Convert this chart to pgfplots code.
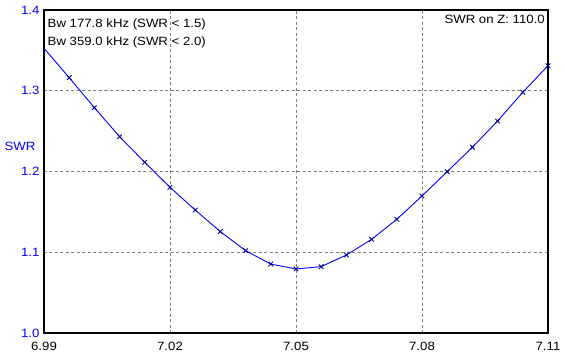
\documentclass[border=0pt]{standalone}
\usepackage{fontspec}
\setmainfont{Liberation Sans}[FakeStretch=1.1]
\usepackage{pgfplots}
\pgfplotsset{compat=1.18}
\definecolor{swrblue}{RGB}{0,0,255}
\definecolor{mkblue}{RGB}{0,0,140}
\definecolor{gridgray}{RGB}{128,128,128}
\begin{document}
\begin{tikzpicture}
\begin{axis}[
  at={(0,0)}, anchor=south west,
  scale only axis, width=504pt, height=323pt,
  xmin=6.99, xmax=7.11, ymin=1.0, ymax=1.4,
  xtick={6.99,7.02,7.05,7.08,7.11},
  ytick={1.0,1.1,1.2,1.3,1.4},
  major tick length=0pt,
  grid=major,
  major grid style={gridgray, dash pattern=on 3pt off 2.5pt, line width=0.8pt},
  axis line style={black, line width=1.1pt},
  font=\fontsize{12}{14}\selectfont,
  /pgf/number format/assume math mode=true,
  xticklabel style={/pgf/number format/.cd, fixed, fixed zerofill, precision=2, /tikz/.cd, yshift=-6pt},
  yticklabel style={/pgf/number format/.cd, fixed, fixed zerofill, precision=1, /tikz/.cd, text=swrblue, xshift=-1pt},
  clip=true,
]
\addplot[color=swrblue, line width=0.9pt, mark=x, mark size=3.2pt,
  mark options={color=mkblue, line width=0.9pt}, mark indices={2,...,21}] coordinates {
(6.990,1.3526) (6.996,1.3162) (7.002,1.2790) (7.008,1.2431) (7.014,1.2114)
(7.020,1.1804) (7.026,1.1523) (7.032,1.1255) (7.038,1.1020) (7.044,1.0854)
(7.050,1.0793) (7.056,1.0822) (7.062,1.0966) (7.068,1.1160) (7.074,1.1408)
(7.080,1.1697) (7.086,1.1998) (7.092,1.2300) (7.098,1.2625) (7.104,1.2981)
(7.110,1.3310)
};
\node[anchor=west, inner sep=0pt, font=\fontsize{12}{14}\selectfont] at (rel axis cs:0.007,0.9551) {Bw 177.8 kHz (SWR < 1.5)};
\node[anchor=west, inner sep=0pt, font=\fontsize{12}{14}\selectfont] at (rel axis cs:0.007,0.9009) {Bw 359.0 kHz (SWR < 2.0)};
\node[anchor=east, inner sep=0pt, font=\fontsize{12}{14}\selectfont] at (rel axis cs:0.994,0.9706) {SWR on Z: 110.0};
\end{axis}
\node[anchor=center, inner sep=0pt, text=swrblue, font=\fontsize{12}{14}\selectfont] at (-24pt,187pt) {SWR};
\pgfresetboundingbox
\path[use as bounding box] (-44pt,-29pt) rectangle (521pt,333pt);
\end{tikzpicture}
\end{document}
